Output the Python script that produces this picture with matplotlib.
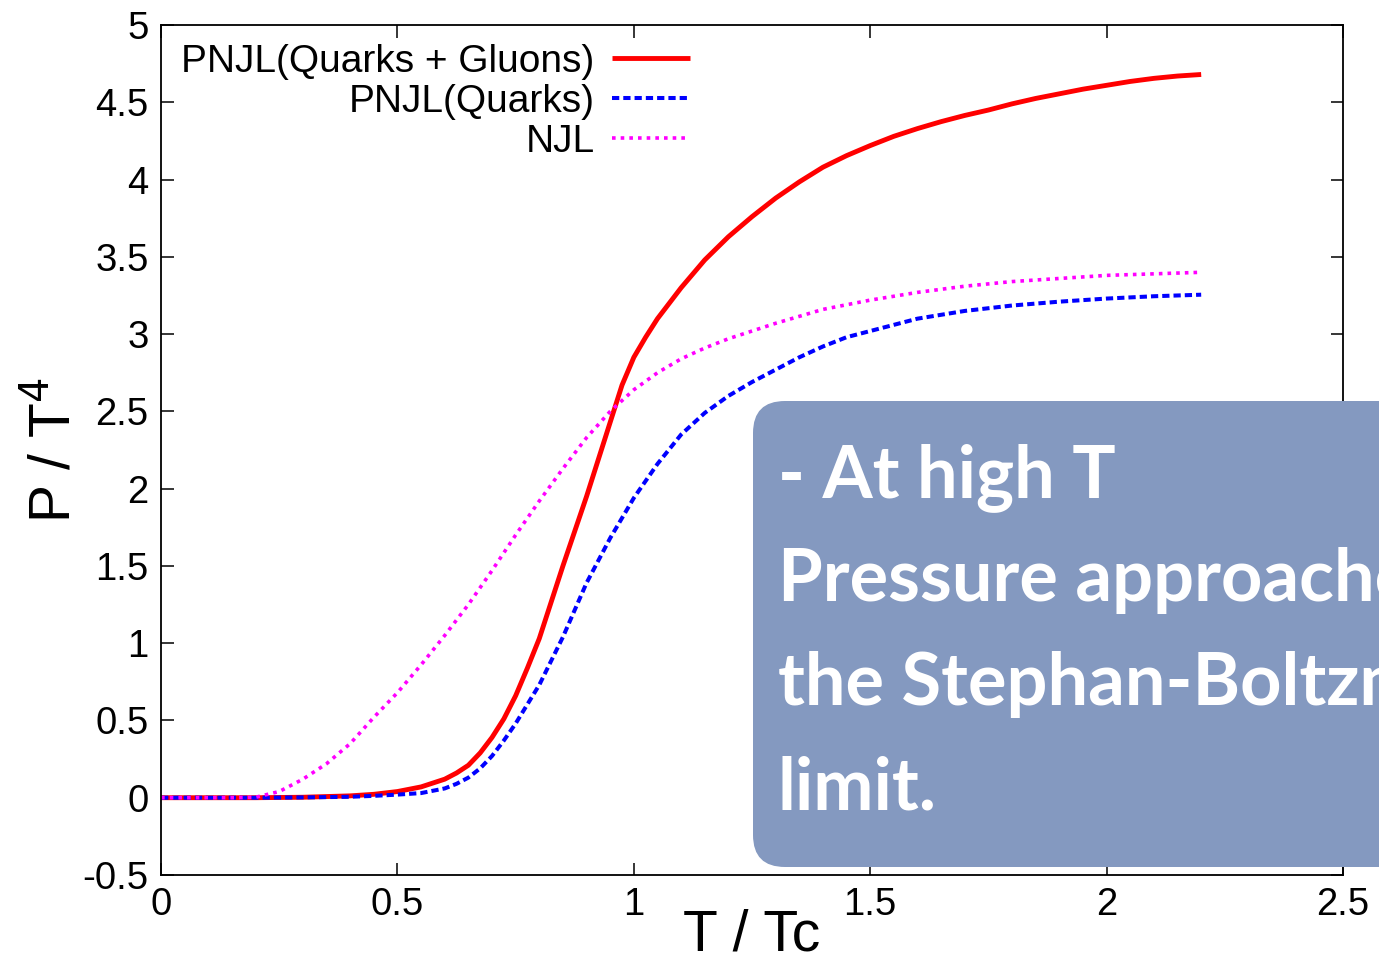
import matplotlib
matplotlib.use("Agg")
import matplotlib.pyplot as plt
from matplotlib.patches import FancyBboxPatch
from matplotlib.ticker import FormatStrFormatter, MultipleLocator
from matplotlib.transforms import IdentityTransform

plt.rcParams['font.family'] = ['Liberation Sans', 'DejaVu Sans']

# P/T^4 vs T/Tc
t_qg = [0, 0.1, 0.2, 0.3, 0.4, 0.45, 0.5, 0.55, 0.6, 0.625, 0.65, 0.675, 0.7, 0.725,
        0.75, 0.775, 0.8, 0.85, 0.9, 0.95, 0.975, 1.0, 1.025, 1.05, 1.075, 1.1, 1.15,
        1.2, 1.25, 1.3, 1.35, 1.4, 1.45, 1.5, 1.55, 1.6, 1.65, 1.7, 1.75, 1.8, 1.85,
        1.9, 1.95, 2.0, 2.05, 2.1, 2.15, 2.2]
p_qg = [0, 0, 0, 0.003, 0.012, 0.022, 0.04, 0.07, 0.12, 0.16, 0.21, 0.29, 0.39, 0.51,
        0.66, 0.84, 1.03, 1.50, 1.95, 2.43, 2.67, 2.85, 2.98, 3.10, 3.20, 3.30, 3.48,
        3.63, 3.76, 3.88, 3.985, 4.08, 4.155, 4.22, 4.28, 4.33, 4.375, 4.415, 4.45, 4.49, 4.525,
        4.555, 4.585, 4.61, 4.635, 4.655, 4.67, 4.68]

t_q = [0, 0.1, 0.2, 0.3, 0.4, 0.45, 0.5, 0.55, 0.6, 0.625, 0.65, 0.675, 0.7, 0.725,
       0.75, 0.8, 0.85, 0.9, 0.95, 1.0, 1.05, 1.1, 1.15, 1.2, 1.25, 1.3, 1.35, 1.4,
       1.45, 1.5, 1.6, 1.7, 1.8, 1.9, 2.0, 2.1, 2.2]
p_q = [0, 0, 0, 0.002, 0.006, 0.012, 0.02, 0.03, 0.06, 0.09, 0.13, 0.19, 0.27, 0.37,
       0.48, 0.73, 1.04, 1.39, 1.68, 1.94, 2.16, 2.35, 2.49, 2.60, 2.69, 2.77, 2.85, 2.92,
       2.98, 3.02, 3.10, 3.15, 3.185, 3.21, 3.23, 3.245, 3.255]

t_njl = [0, 0.1, 0.15, 0.2, 0.25, 0.3, 0.35, 0.4, 0.45, 0.5, 0.55, 0.6, 0.65, 0.7,
         0.75, 0.8, 0.85, 0.9, 0.95, 1.0, 1.05, 1.1, 1.15, 1.2, 1.3, 1.4, 1.5, 1.6,
         1.7, 1.8, 1.9, 2.0, 2.1, 2.2]
p_njl = [0, 0, 0, 0.003, 0.04, 0.12, 0.22, 0.35, 0.52, 0.68, 0.86, 1.05, 1.25, 1.47,
         1.70, 1.92, 2.13, 2.33, 2.50, 2.64, 2.75, 2.84, 2.91, 2.97, 3.07, 3.16, 3.22, 3.27,
         3.31, 3.34, 3.36, 3.38, 3.39, 3.40]

labels = ["PNJL(Quarks + Gluons)", "PNJL(Quarks)", "NJL"]
note_lines = ["- At high T", "Pressure approaches", "the Stephan-Boltzmann", "limit."]

fig = plt.figure(figsize=(13.79, 9.63), dpi=100)
ax = fig.add_axes([0.1168, 0.0914, 0.8571, 0.8826])

ax.plot(t_qg, p_qg, color='#ff0000', lw=3.5, label=labels[0], solid_capstyle='butt')
ax.plot(t_q, p_q, color='#0000ff', lw=2.9, dashes=(1.8, 1.0), label=labels[1],
        dash_capstyle='butt')
ax.plot(t_njl, p_njl, color='#ff00ff', lw=2.6, dashes=(1.0, 1.4), label=labels[2],
        dash_capstyle='butt')

ax.set_xlim(0, 2.5)
ax.set_ylim(-0.5, 5)
ax.xaxis.set_major_locator(MultipleLocator(0.5))
ax.yaxis.set_major_locator(MultipleLocator(0.5))
ax.xaxis.set_major_formatter(FormatStrFormatter('%g'))
ax.yaxis.set_major_formatter(FormatStrFormatter('%g'))
ax.tick_params(direction='in', length=9, width=1.1, top=True, right=True,
               labelsize=27.5, pad=9)
for s in ax.spines.values():
    s.set_linewidth(1.3)

ax.set_xlabel('T / Tc', fontsize=41, labelpad=-11)
ax.set_ylabel('P / T$^4$', fontsize=41, labelpad=0)

ax.legend(loc='upper right', bbox_to_anchor=(0.4475, 0.978), frameon=False,
          markerfirst=False, fontsize=28, handlelength=2.0, handletextpad=0.45,
          labelspacing=0.1, borderpad=0, borderaxespad=0)

# callout box drawn in pixel coordinates
box = FancyBboxPatch((753, 96), 700, 466, boxstyle='round,pad=0,rounding_size=32',
                     transform=IdentityTransform(), facecolor='#8499c0',
                     edgecolor='none', zorder=10)
fig.patches.append(box)
for i, line in enumerate(note_lines):
    fig.text(778 / 1379, (963 - 497 - 104 * i) / 963, line, color='white',
             fontsize=52, fontweight='bold', family=['Lato', 'DejaVu Sans'],
             va='baseline', ha='left', zorder=11)

fig.savefig('out.png', dpi=100)
